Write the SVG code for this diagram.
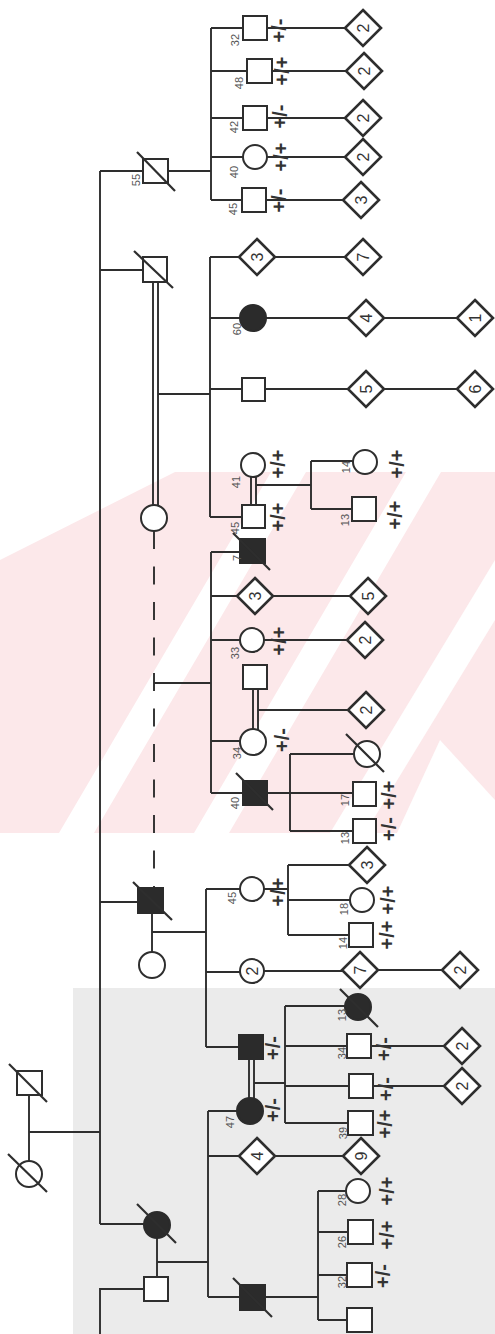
<svg xmlns="http://www.w3.org/2000/svg" width="495" height="1334" viewBox="0 0 495 1334">
<style>
.l{stroke:#2e2e2e;stroke-width:1.9;fill:none}
.s{fill:#fff;stroke:#2e2e2e;stroke-width:2}
.f{fill:#2b2b2b;stroke:#2b2b2b;stroke-width:2}
.sl{stroke:#2e2e2e;stroke-width:2.2}
.dm{fill:#fff;stroke:#2e2e2e;stroke-width:2.6}
text{font-family:"Liberation Sans",Arial,sans-serif;text-anchor:middle;dominant-baseline:central}
.a{font-size:11px;fill:#555}
.g{font-size:20px;font-weight:bold;fill:#333}
.n{font-size:16px;fill:#333}
</style>
<defs>
<path id="d" class="dm" d="M0,-18 L18,0 L0,18 L-18,0Z"/>
</defs>
<rect width="495" height="1334" fill="#fff"/>
<g id="watermark">
<polygon points="175,472 495,472 495,833 0,833 0,560" fill="#fce8ea"/>
<polygon points="271,472 306,472 94,833 59,833" fill="#fff"/>
<polygon points="406,472 441,472 229,833 194,833" fill="#fff"/>
<polygon points="495,560 495,620 365,833 330,833" fill="#fff"/>
<polygon points="397,833 440,740 495,800 495,833" fill="#fff"/>
</g>
<rect id="shade" x="73" y="988" width="422" height="346" fill="#ebebeb"/>

<g id="connectors">
<path class="l" d="M29,1095V1161M29,1132H100M100,171V1224M100,171H143M100,270H143M100,902H138M100,1224H144M144,1289H100V1334"/>
<path class="l" d="M168,171H211M211,28V200M211,28H243M211,71H247M211,118H243M211,157H243M211,200H242M267,28H345M272,71H346M267,118H345M267,157H345M266,200H343"/>
<path class="l" d="M153,282V505M158,282V506M158,394H210M210,257V517M210,257H240M210,318H240M210,389H242M210,517H242M274,257H345M266,318H348M384,318H457M265,389H348M384,389H457"/>
<path class="l" d="M251,477V505M256,477V505M256,485H311M311,461V509M311,461H353M311,509H352"/>
<path class="l" stroke-dasharray="18 17.5" d="M154,531V888"/>
<path class="l" d="M154,683H211M211,552V793M211,552H240M211,596H238M211,640H240M211,741H240M211,793H243M272,596H350M264,640H347M253,689V729M258,689V730M258,710H348M267,793H353M290,754V831M290,754H354M290,831H353"/>
<path class="l" d="M152,913V952M152,932H206M206,889V1047M206,889H240M206,972H240M206,1047H239M264,889H288M288,865V935M288,865H349M288,900H350M288,935H349M264,971H342M378,970H442"/>
<path class="l" d="M249,1059V1098M254,1059V1099M254,1083H285M285,1006V1123M285,1006H345M285,1046H347M285,1086H349M285,1123H348M371,1046H444M373,1086H444"/>
<path class="l" d="M157,1238V1277M157,1262H208M208,1111V1297M208,1111H237M208,1156H239M208,1297H240M275,1156H343M265,1297H318M318,1191V1320M318,1191H346M318,1232H348M318,1275H347M318,1320H347"/>
</g>

<g id="I1"><rect class="s" x="17" y="1071" width="25" height="24"/><line class="sl" x1="9" y1="1064" x2="47" y2="1102"/></g>
<g id="I2"><circle class="s" cx="29" cy="1174" r="13"/><line class="sl" x1="8" y1="1154" x2="47" y2="1192"/></g>

<g id="II1"><rect class="s" x="143" y="159" width="25" height="24"/><line class="sl" x1="137" y1="152" x2="175" y2="191"/><text class="a" transform="translate(136,180) rotate(-90)">55</text></g>
<g id="III1"><rect class="s" x="243" y="16" width="24" height="24"/><text class="a" transform="translate(235,40) rotate(-90)">32</text><text class="g" transform="translate(279,30.5) rotate(-90)">+/-</text><use href="#d" x="363" y="28"/><text class="n" transform="translate(363,28) rotate(-90)">2</text></g>
<g id="III2"><rect class="s" x="247" y="59" width="25" height="24"/><text class="a" transform="translate(239,83) rotate(-90)">48</text><text class="g" transform="translate(282,71) rotate(-90)">+/+</text><use href="#d" x="364" y="71"/><text class="n" transform="translate(364,71) rotate(-90)">2</text></g>
<g id="III3"><rect class="s" x="243" y="106" width="24" height="24"/><text class="a" transform="translate(234,127) rotate(-90)">42</text><text class="g" transform="translate(280,116.5) rotate(-90)">+/-</text><use href="#d" x="363" y="118"/><text class="n" transform="translate(363,118) rotate(-90)">2</text></g>
<g id="III4"><circle class="s" cx="255" cy="157" r="12"/><text class="a" transform="translate(234,172) rotate(-90)">40</text><text class="g" transform="translate(281,157) rotate(-90)">+/+</text><use href="#d" x="363" y="157"/><text class="n" transform="translate(363,157) rotate(-90)">2</text></g>
<g id="III5"><rect class="s" x="242" y="188" width="24" height="24"/><text class="a" transform="translate(233,209) rotate(-90)">45</text><text class="g" transform="translate(279,200.5) rotate(-90)">+/-</text><use href="#d" x="361" y="200"/><text class="n" transform="translate(361,200) rotate(-90)">3</text></g>

<g id="II2"><rect class="s" x="143" y="257" width="24" height="25"/><line class="sl" x1="134" y1="251" x2="173" y2="288"/></g>
<g id="II2w"><circle class="s" cx="154" cy="518" r="13"/></g>
<g id="III6"><use href="#d" x="257" y="257"/><text class="n" transform="translate(257,257) rotate(-90)">3</text></g>
<g id="IV6"><use href="#d" x="363" y="257"/><text class="n" transform="translate(363,257) rotate(-90)">7</text></g>
<g id="III7"><circle class="f" cx="253" cy="318" r="13"/><text class="a" transform="translate(237,329) rotate(-90)">60</text></g>
<g id="IV7"><use href="#d" x="366" y="318"/><text class="n" transform="translate(366,318) rotate(-90)">4</text></g>
<g id="V7"><use href="#d" x="475" y="318"/><text class="n" transform="translate(475,318) rotate(-90)">1</text></g>
<g id="III8"><rect class="s" x="242" y="378" width="23" height="23"/></g>
<g id="IV8"><use href="#d" x="366" y="389"/><text class="n" transform="translate(366,389) rotate(-90)">5</text></g>
<g id="V8"><use href="#d" x="475" y="389"/><text class="n" transform="translate(475,389) rotate(-90)">6</text></g>
<g id="III9w"><circle class="s" cx="253" cy="465" r="12"/><text class="a" transform="translate(236,482) rotate(-90)">41</text><text class="g" transform="translate(278,464) rotate(-90)">+/+</text></g>
<g id="III9"><rect class="s" x="242" y="505" width="23" height="23"/><text class="a" transform="translate(235,528) rotate(-90)">45</text><text class="g" transform="translate(278,517) rotate(-90)">+/+</text></g>
<g id="IV9a"><circle class="s" cx="365" cy="462" r="12"/><text class="a" transform="translate(346,467) rotate(-90)">14</text><text class="g" transform="translate(397,464) rotate(-90)">+/+</text></g>
<g id="IV9b"><rect class="s" x="352" y="497" width="24" height="24"/><text class="a" transform="translate(345,520) rotate(-90)">13</text><text class="g" transform="translate(395,515) rotate(-90)">+/+</text></g>

<g id="III10"><rect class="f" x="240" y="539" width="25" height="24"/><line class="sl" x1="233" y1="533" x2="270" y2="570"/><text class="a" transform="translate(237,558) rotate(-90)">7</text></g>
<g id="III11"><use href="#d" x="255" y="596"/><text class="n" transform="translate(255,596) rotate(-90)">3</text></g>
<g id="IV11"><use href="#d" x="368" y="596"/><text class="n" transform="translate(368,596) rotate(-90)">5</text></g>
<g id="III12"><circle class="s" cx="252" cy="640" r="12"/><text class="a" transform="translate(235,653) rotate(-90)">33</text><text class="g" transform="translate(279,641) rotate(-90)">+/+</text></g>
<g id="IV12"><use href="#d" x="365" y="640"/><text class="n" transform="translate(365,640) rotate(-90)">2</text></g>
<g id="III13h"><rect class="s" x="243" y="665" width="24" height="24"/></g>
<g id="III13"><circle class="s" cx="253" cy="742" r="13"/><text class="a" transform="translate(237,753) rotate(-90)">34</text><text class="g" transform="translate(282,740) rotate(-90)">+/-</text></g>
<g id="IV13"><use href="#d" x="366" y="710"/><text class="n" transform="translate(366,710) rotate(-90)">2</text></g>
<g id="III14"><rect class="f" x="243" y="781" width="24" height="24"/><line class="sl" x1="236" y1="773" x2="273" y2="810"/><text class="a" transform="translate(235,803) rotate(-90)">40</text></g>
<g id="IV14a"><circle class="s" cx="367" cy="754" r="13"/><line class="sl" x1="346" y1="734" x2="384" y2="772"/></g>
<g id="IV14b"><rect class="s" x="353" y="782" width="23" height="24"/><text class="a" transform="translate(345,800) rotate(-90)">17</text><text class="g" transform="translate(389,795) rotate(-90)">+/+</text></g>
<g id="IV14c"><rect class="s" x="353" y="819" width="23" height="24"/><text class="a" transform="translate(345,838) rotate(-90)">13</text><text class="g" transform="translate(389,829) rotate(-90)">+/-</text></g>

<g id="II3"><rect class="f" x="138" y="888" width="25" height="25"/><line class="sl" x1="133" y1="882" x2="172" y2="920"/></g>
<g id="II3w"><circle class="s" cx="152" cy="965" r="13"/></g>
<g id="III15"><circle class="s" cx="252" cy="889" r="12"/><text class="a" transform="translate(232,898) rotate(-90)">45</text><text class="g" transform="translate(278,892) rotate(-90)">+/+</text></g>
<g id="IV15a"><use href="#d" x="367" y="865"/><text class="n" transform="translate(367,865) rotate(-90)">3</text></g>
<g id="IV15b"><circle class="s" cx="362" cy="900" r="12"/><text class="a" transform="translate(344,909) rotate(-90)">18</text><text class="g" transform="translate(388,900) rotate(-90)">+/+</text></g>
<g id="IV15c"><rect class="s" x="349" y="923" width="24" height="24"/><text class="a" transform="translate(343,943) rotate(-90)">14</text><text class="g" transform="translate(387,935) rotate(-90)">+/+</text></g>
<g id="III16"><circle class="s" cx="252" cy="971" r="12"/><text class="n" transform="translate(252,971) rotate(-90)">2</text></g>
<g id="IV16"><use href="#d" x="360" y="970"/><text class="n" transform="translate(360,970) rotate(-90)">7</text></g>
<g id="V16"><use href="#d" x="460" y="970"/><text class="n" transform="translate(460,970) rotate(-90)">2</text></g>
<g id="III17"><rect class="f" x="239" y="1035" width="24" height="24"/><text class="g" transform="translate(273,1048) rotate(-90)">+/-</text></g>
<g id="IV17a"><circle class="f" cx="358" cy="1007" r="13"/><line class="sl" x1="340" y1="989" x2="378" y2="1027"/><text class="a" transform="translate(342,1015) rotate(-90)">13</text></g>
<g id="IV17b"><rect class="s" x="347" y="1034" width="24" height="24"/><text class="a" transform="translate(342,1053) rotate(-90)">34</text><text class="g" transform="translate(384,1049) rotate(-90)">+/-</text></g>
<g id="V17b"><use href="#d" x="462" y="1046"/><text class="n" transform="translate(462,1046) rotate(-90)">2</text></g>
<g id="IV17c"><rect class="s" x="349" y="1074" width="24" height="24"/><text class="g" transform="translate(386,1089) rotate(-90)">+/-</text></g>
<g id="V17c"><use href="#d" x="462" y="1086"/><text class="n" transform="translate(462,1086) rotate(-90)">2</text></g>
<g id="IV17d"><rect class="s" x="348" y="1111" width="25" height="24"/><text class="a" transform="translate(343,1133) rotate(-90)">39</text><text class="g" transform="translate(385,1124) rotate(-90)">+/+</text></g>

<g id="II4"><circle class="f" cx="157" cy="1225" r="13"/><line class="sl" x1="137" y1="1204" x2="176" y2="1243"/></g>
<g id="II4h"><rect class="s" x="144" y="1277" width="24" height="24"/></g>
<g id="III18"><circle class="f" cx="250" cy="1111" r="13"/><text class="a" transform="translate(230,1122) rotate(-90)">47</text><text class="g" transform="translate(273,1110) rotate(-90)">+/-</text></g>
<g id="III19"><use href="#d" x="257" y="1156"/><text class="n" transform="translate(257,1156) rotate(-90)">4</text></g>
<g id="IV19"><use href="#d" x="361" y="1156"/><text class="n" transform="translate(361,1156) rotate(-90)">9</text></g>
<g id="III20"><rect class="f" x="240" y="1285" width="25" height="25"/><line class="sl" x1="233" y1="1278" x2="272" y2="1317"/></g>
<g id="IV20a"><circle class="s" cx="358" cy="1191" r="12"/><text class="a" transform="translate(342,1200) rotate(-90)">28</text><text class="g" transform="translate(387,1191) rotate(-90)">+/+</text></g>
<g id="IV20b"><rect class="s" x="348" y="1220" width="25" height="24"/><text class="a" transform="translate(342,1242) rotate(-90)">26</text><text class="g" transform="translate(387,1235) rotate(-90)">+/+</text></g>
<g id="IV20c"><rect class="s" x="347" y="1263" width="25" height="24"/><text class="a" transform="translate(342,1282) rotate(-90)">32</text><text class="g" transform="translate(383,1276) rotate(-90)">+/-</text></g>
<g id="IV20d"><rect class="s" x="347" y="1308" width="25" height="24"/></g>
</svg>
